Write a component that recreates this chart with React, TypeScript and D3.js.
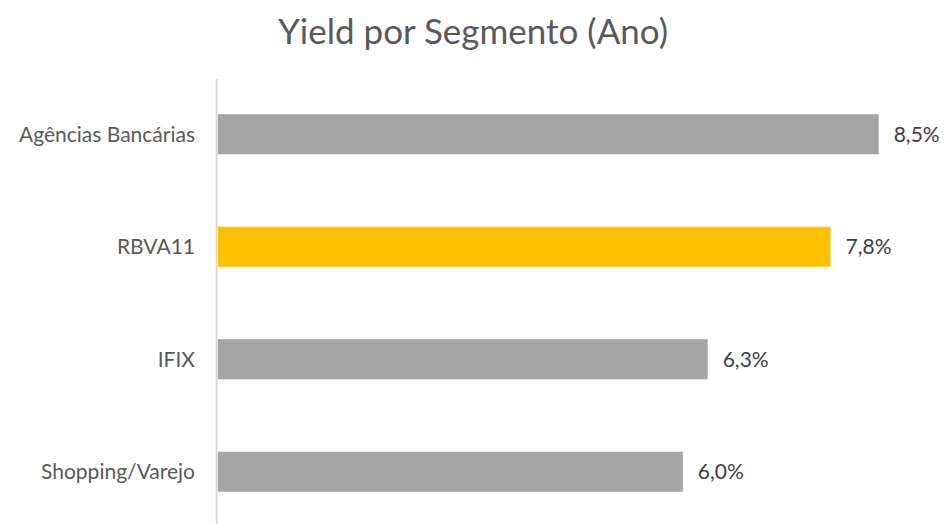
import React from "react";
import * as d3 from "d3";

const categories = ["Agências Bancárias", "RBVA11", "IFIX", "Shopping/Varejo"];
const values = [8.5, 7.88, 6.3, 5.98];
const valueLabels = ["8,5%", "7,8%", "6,3%", "6,0%"];
const colors = ["#a5a5a5", "#ffc000", "#a5a5a5", "#a5a5a5"];
const title = "Yield por Segmento (Ano)";

const W = 946;
const H = 524;
const FONT = "Lato, 'Open Sans', sans-serif";

export default function App() {
  const x0 = 218;
  const x = d3.scaleLinear().domain([0, 8.5]).range([x0, 878.7]);
  const y = d3
    .scaleBand<string>()
    .domain(categories)
    .range([78, 528])
    .paddingInner(0.644)
    .paddingOuter(0.322);

  return (
    <svg
      width={W}
      height={H}
      style={{ position: "absolute", left: 0, top: 0, background: "#fff" }}
      fontFamily={FONT}
    >
      <text x={473} y={44} textAnchor="middle" fontSize={35} fill="#595959">
        {title}
      </text>
      {categories.map((c, i) => {
        const yy = y(c)!;
        const bh = y.bandwidth();
        return (
          <g key={c}>
            <rect x={x0} y={yy} width={x(values[i]) - x0} height={bh} fill={colors[i]} />
            <text
              x={195}
              y={yy + bh / 2}
              dy="0.35em"
              textAnchor="end"
              fontSize={21}
              fill="#595959"
            >
              {c}
            </text>
            <text
              x={x(values[i]) + 15}
              y={yy + bh / 2}
              dy="0.35em"
              fontSize={21}
              fill="#404040"
            >
              {valueLabels[i]}
            </text>
          </g>
        );
      })}
      <line x1={216.7} x2={216.7} y1={79} y2={H} stroke="#d9d9d9" strokeWidth={2} />
    </svg>
  );
}
